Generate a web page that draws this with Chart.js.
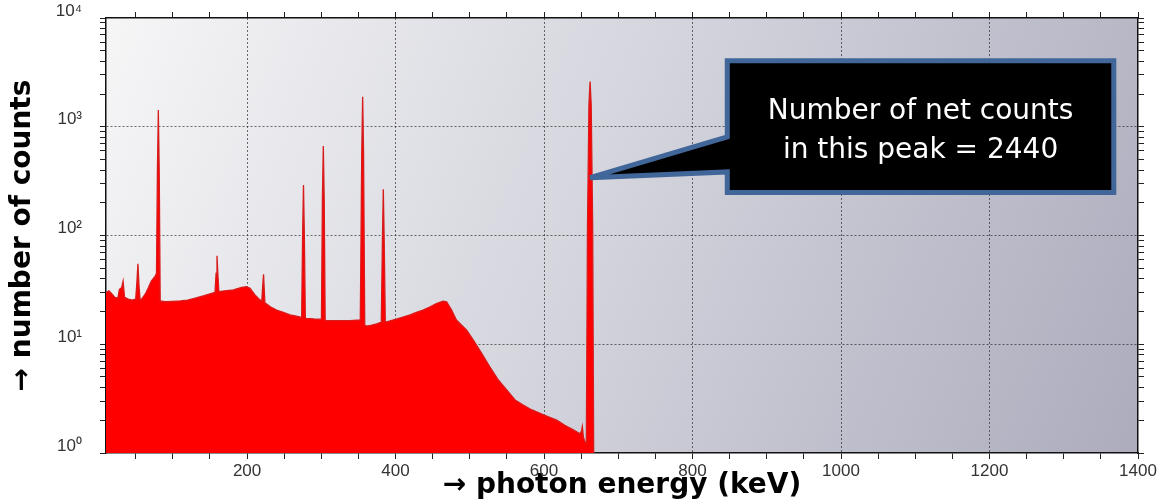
<!DOCTYPE html>
<html>
<head>
<meta charset="utf-8">
<script src="https://cdn.jsdelivr.net/npm/chart.js@4.4.1/dist/chart.umd.min.js"></script>
<style>
  html, body { margin: 0; padding: 0; background: #fff; }
  #wrap { width: 1168px; height: 500px; position: relative; }
</style>
</head>
<body>
<div id="wrap"><canvas id="chart"></canvas></div>
<script>
// gamma spectrum (keV -> counts per channel)
const energies = [
  10, 14, 18, 22, 26, 28, 31, 33, 35, 40, 45, 50, 51.5, 53, 54.5, 56, 58, 63, 67, 71, 76, 78,
  79.3, 80.5, 81.7, 83, 90, 100, 110, 120, 130, 141, 150, 156.8,
  158.3, 159.5, 160.7, 162, 170, 181.5, 192.7, 199.4, 204, 210.7, 217.4,
  219.8, 221, 222.2, 224, 226.4, 232, 239.8, 250, 257.8, 265, 272, 273.5,
  274.8, 276, 277.2, 278.5, 280, 290, 298, 300.2, 301.5, 302.7, 303.9, 305.2, 307, 320, 338.7, 348, 352.5,
  354.5, 355.7, 356.9, 358.5, 361, 368, 374.6, 379, 380.8, 382.3, 383.5, 384.7, 386.2, 388, 395, 401,
  410, 419.5, 428, 437, 446, 455, 464, 468.8, 475.5, 482, 489, 495.8, 504.8, 516, 527, 538.5, 549.7,
  561, 572, 583, 594.6, 606, 617, 628, 639.5, 648.5,
  650.5, 651.6, 653, 655, 657, 658.5, 660.5, 662, 663.5, 665.5, 667
];
const counts = [
  30, 31, 29, 27, 26.5, 32, 33, 38, 27, 26, 25.5, 26, 36, 55, 34, 25.5, 26, 29, 33, 38, 42, 45,
  420, 1426, 380, 25, 24.6, 24.8, 25, 25.5, 26.5, 27.8, 29, 30,
  45, 65, 44, 30.5, 31, 31.6, 33.4, 33.8, 32.7, 28.4, 25.6,
  24.8, 34, 44, 24, 23.4, 22, 20.6, 19.5, 18.6, 18.2, 17.8, 17.7,
  100, 291, 95, 17.4, 17.3, 17.1, 17, 17, 220, 665, 210, 16.7, 16.5, 16.5, 16.5, 16.7, 16.7,
  600, 1891, 580, 15, 14.7, 15, 15.4, 15.8, 15.9, 90, 266, 88, 16, 16.1, 16.6, 17,
  17.8, 18.6, 19.6, 20.6, 22, 23.7, 24.9, 24.6, 20.6, 16.7, 15, 13.5, 10.9, 8.26, 6.2, 4.69, 3.8,
  3.07, 2.76, 2.5, 2.32, 2.15, 2.01, 1.8, 1.63, 1.5,
  1.6, 1.75, 1.4, 1.27, 1.25, 120, 1600, 2600, 1600, 120, 0.6
];

const xMajorTicks = [200, 400, 600, 800, 1000, 1200, 1400];
const yDecades = [1, 10, 100, 1000, 10000];
const yTickLabels = ['10⁰', '10¹', '10²', '10³', '10⁴'];

const calloutLines = ['Number of net counts', 'in this peak = 2440'];
const calloutBox = { fromKeV: 846.8, toKeV: 1367.4, topCounts: 4043, bottomCounts: 248.6 };
const calloutTip = { keV: 662, counts: 340, edgeTop: 805, edgeBottom: 384 };

const axisFont = { family: '"Liberation Sans", Arial, sans-serif', size: 17 };
const titleFont = { family: '"DejaVu Sans", Verdana, sans-serif', size: 28, weight: 'bold' };

// minor tick positions: every 50 keV, and 1..9 per decade
const xTickValues = [];
for (let v = 50; v <= 1400; v += 50) xTickValues.push(v);
const yTickValues = [];
yDecades.forEach(d => {
  if (d === 10000) { yTickValues.push(d); return; }
  for (let m = 1; m <= 9; m++) yTickValues.push(m * d);
});

const backdrop = {
  id: 'backdrop',
  beforeDraw(chart) {
    const { ctx, chartArea: a } = chart;
    const g = ctx.createLinearGradient(a.left, a.top, a.right, a.bottom);
    g.addColorStop(0, '#f6f6f7');
    g.addColorStop(0.45, '#d5d6de');
    g.addColorStop(1, '#acacbd');
    ctx.save();
    ctx.fillStyle = g;
    ctx.fillRect(a.left, a.top, a.right - a.left, a.bottom - a.top);
    ctx.restore();
  }
};

const callout = {
  id: 'callout',
  afterDraw(chart) {
    const { ctx, scales: { x, y } } = chart;
    const left = x.getPixelForValue(calloutBox.fromKeV);
    const right = x.getPixelForValue(calloutBox.toKeV);
    const top = y.getPixelForValue(calloutBox.topCounts);
    const bottom = y.getPixelForValue(calloutBox.bottomCounts);
    const tipX = x.getPixelForValue(calloutTip.keV);
    const tipY = y.getPixelForValue(calloutTip.counts);
    ctx.save();
    ctx.beginPath();
    ctx.moveTo(left, top);
    ctx.lineTo(right, top);
    ctx.lineTo(right, bottom);
    ctx.lineTo(left, bottom);
    ctx.lineTo(left, y.getPixelForValue(calloutTip.edgeBottom));
    ctx.lineTo(tipX, tipY);
    ctx.lineTo(left, y.getPixelForValue(calloutTip.edgeTop));
    ctx.closePath();
    ctx.fillStyle = '#000';
    ctx.fill();
    ctx.lineWidth = 5;
    ctx.miterLimit = 2;
    ctx.strokeStyle = '#41679a';
    ctx.stroke();
    ctx.fillStyle = '#fff';
    ctx.font = '28px "DejaVu Sans", Verdana, sans-serif';
    ctx.textAlign = 'center';
    ctx.textBaseline = 'alphabetic';
    const mid = (top + bottom) / 2;
    calloutLines.forEach((t, i) => ctx.fillText(t, (left + right) / 2, mid - 8 + i * 39));
    ctx.restore();
  }
};

const gridColor = 'rgba(35,35,35,0.65)';
const noOverhang = s => { s.paddingTop = 0; s.paddingBottom = 0; };

const ctx = document.querySelector('#chart').getContext('2d');
const chart = new Chart(ctx, {
  type: 'line',
  data: {
    datasets: [{
      data: energies.map((e, i) => ({ x: e, y: counts[i] })),
      borderColor: '#d81c1c',
      borderWidth: 1.3,
      backgroundColor: '#ff0000',
      fill: 'start',
      pointRadius: 0,
      tension: 0
    }]
  },
  options: {
    responsive: true,
    maintainAspectRatio: false,
    animation: false,
    layout: { padding: { top: 12, right: 24, left: 0, bottom: 0 } },
    plugins: { legend: { display: false }, tooltip: { enabled: false } },
    scales: {
      x: {
        type: 'linear',
        position: 'bottom',
        min: 10,
        max: 1400,
        z: 1,
        afterBuildTicks: s => { s.ticks = xTickValues.map(v => ({ value: v })); },
        afterFit: s => { s.height = 47; },
        ticks: {
          autoSkip: false,
          maxRotation: 0,
          padding: 2,
          color: '#333',
          font: axisFont,
          callback: v => xMajorTicks.includes(v) ? String(v) : ''
        },
        grid: {
          color: c => xMajorTicks.includes(c.tick.value) && c.tick.value < 1400 ? gridColor : 'transparent',
          tickColor: '#222',
          tickLength: 6,
          tickBorderDash: []
        },
        border: { display: true, color: '#111', width: 1.5, dash: [2, 2] },
        title: {
          display: true,
          text: '→ photon energy (keV)',
          color: '#000',
          font: titleFont,
          padding: { top: 0, bottom: -3 }
        }
      },
      x2: {
        type: 'linear',
        position: 'top',
        min: 10,
        max: 1400,
        z: 1,
        afterBuildTicks: s => { s.ticks = xTickValues.map(v => ({ value: v })); },
        ticks: { display: false, autoSkip: false },
        grid: { drawOnChartArea: false, tickColor: '#222', tickLength: 6 },
        border: { display: true, color: '#111', width: 1.5 }
      },
      y: {
        type: 'logarithmic',
        position: 'left',
        min: 1,
        max: 10000,
        z: 1,
        afterBuildTicks: s => { s.ticks = yTickValues.map(v => ({ value: v })); },
        afterFit: s => { s.width = 106; noOverhang(s); },
        ticks: {
          autoSkip: false,
          padding: 18,
          labelOffset: -7,
          color: '#333',
          font: axisFont,
          callback: v => {
            const i = yDecades.indexOf(v);
            return i >= 0 ? yTickLabels[i] : '';
          }
        },
        grid: {
          color: c => yDecades.includes(c.tick.value) && c.tick.value > 1 && c.tick.value < 10000 ? gridColor : 'transparent',
          tickColor: '#222',
          tickLength: 6,
          tickBorderDash: []
        },
        border: { display: true, color: '#111', width: 1.5, dash: [2, 2] },
        title: {
          display: true,
          text: '→ number of counts',
          color: '#000',
          font: titleFont,
          padding: { top: 6, bottom: 0 }
        }
      },
      y2: {
        type: 'logarithmic',
        position: 'right',
        min: 1,
        max: 10000,
        z: 1,
        afterBuildTicks: s => { s.ticks = yTickValues.map(v => ({ value: v })); },
        afterFit: noOverhang,
        ticks: { display: false, autoSkip: false },
        grid: { drawOnChartArea: false, tickColor: '#222', tickLength: 6 },
        border: { display: true, color: '#111', width: 1.5 }
      }
    }
  },
  plugins: [backdrop, callout]
});
</script>
</body>
</html>
